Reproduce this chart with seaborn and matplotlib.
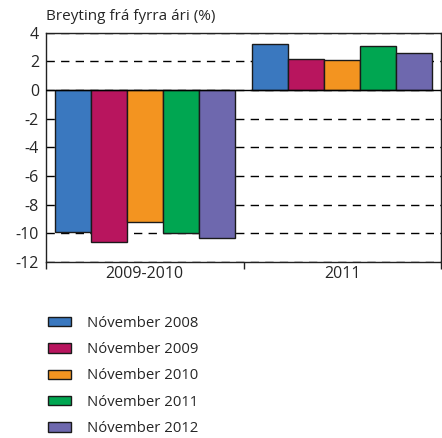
import seaborn as sns
import matplotlib.pyplot as plt
import matplotlib.patches as mpatches
import pandas as pd

periods = ['2009-2010', '2011']
forecasts = ['Nóvember 2008', 'Nóvember 2009', 'Nóvember 2010', 'Nóvember 2011', 'Nóvember 2012']
vals_2009_2010 = [-9.9, -10.6, -9.2, -10.0, -10.3]
vals_2011 = [3.2, 2.2, 2.1, 3.1, 2.6]
colors = ['#3a78bf', '#b8155e', '#f39420', '#00a651', '#6e68ae']
title = 'Breyting frá fyrra ári (%)'

rows = []
for f, a, b in zip(forecasts, vals_2009_2010, vals_2011):
    rows.append({'period': periods[0], 'forecast': f, 'value': a})
    rows.append({'period': periods[1], 'forecast': f, 'value': b})
df = pd.DataFrame(rows)

sns.set_style('white')
plt.rcParams['font.family'] = ['Open Sans', 'DejaVu Sans']
plt.rcParams['axes.unicode_minus'] = False

fig = plt.figure(figsize=(4.42, 4.38), dpi=100)
ax = fig.add_axes([0.104, 0.402, 0.894, 0.523])

sns.barplot(data=df, x='period', y='value', hue='forecast', order=periods,
            hue_order=forecasts, palette=colors, saturation=1, width=0.91, gap=0,
            edgecolor='#1a1a1a', linewidth=1, legend=False, ax=ax, zorder=3)

ax.set_ylim(-12, 4)
ax.set_yticks(range(-12, 5, 2))
ax.set_xlim(-0.5, 1.5)
ax.grid(axis='y', color='black', linewidth=1, linestyle=(0, (6, 4.5)), zorder=0)
ax.grid(axis='x', visible=False)
ax.axhline(0, color='black', linewidth=1, zorder=4)
ax.set_axisbelow(True)

for s in ax.spines.values():
    s.set_color('#222222')
    s.set_linewidth(1)

ax.set_xticks([-0.5, 0.5, 1.5], minor=True)
ax.tick_params(axis='x', which='minor', length=5, width=1, color='#222222', direction='out', bottom=True)
ax.tick_params(axis='x', which='major', length=0, pad=3, labelsize=11.5)
ax.tick_params(axis='y', length=0, pad=5, labelsize=11.5)
ax.set_xlabel('')
ax.set_ylabel('')

fig.text(0.104, 0.962, title, fontsize=11, ha='left', va='center')

handles = [mpatches.Patch(facecolor=c, edgecolor='#1a1a1a', linewidth=1, label=f)
           for c, f in zip(colors, forecasts)]
fig.legend(handles=handles, loc='upper left', bbox_to_anchor=(0.078, 0.31),
           frameon=False, fontsize=10.7, handlelength=1.55, handleheight=0.6,
           handletextpad=1.1, labelspacing=0.77)

plt.savefig('out.png', dpi=100)
